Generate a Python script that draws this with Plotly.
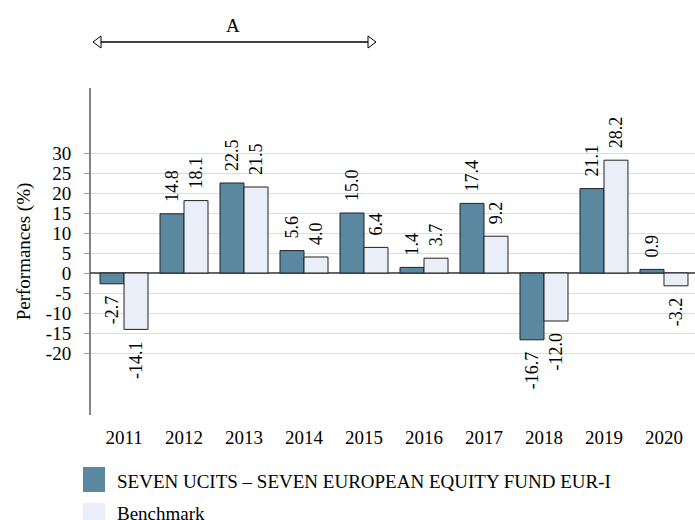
import plotly.graph_objects as go

years = ["2011", "2012", "2013", "2014", "2015", "2016", "2017", "2018", "2019", "2020"]
fund = [-2.7, 14.8, 22.5, 5.6, 15.0, 1.4, 17.4, -16.7, 21.1, 0.9]
bench = [-14.1, 18.1, 21.5, 4.0, 6.4, 3.7, 9.2, -12.0, 28.2, -3.2]
fund_name = "SEVEN UCITS – SEVEN EUROPEAN EQUITY FUND EUR-I"
bench_name = "Benchmark"
y_ticks = [-20, -15, -10, -5, 0, 5, 10, 15, 20, 25, 30]

DARK = "#5b88a1"
LIGHT = "#e9eef8"
FONT = "Liberation Serif"
NB = "\u00a0\u00a0"

W, H = 695, 520
L, R, T, B = 90, 0, 88, 105
pw, ph = W - L - R, H - T - B


def px(x):
    return (x - L) / pw


def py(y):
    return (H - B - y) / ph


def lab(v):
    s = f"{v:.1f}"
    return NB + s if v >= 0 else s + NB


fig = go.Figure()
for name, vals, col in [(fund_name, fund, DARK), (bench_name, bench, LIGHT)]:
    fig.add_trace(go.Bar(
        x=years, y=vals, name=name,
        marker=dict(color=col, line=dict(color="#222222", width=1)),
        text=[lab(v) for v in vals], textposition="outside", textangle=-90,
        textfont=dict(family=FONT, size=18, color="#000"),
        cliponaxis=False, constraintext="none", showlegend=False,
    ))

shapes = []
# y axis line
shapes.append(dict(type="line", xref="paper", yref="paper", x0=0, x1=0, y0=0, y1=1,
                   line=dict(color="#333333", width=1.2)))
# arrow
ay = py(42)
shapes.append(dict(type="line", xref="paper", yref="paper", x0=px(93), x1=px(376), y0=ay, y1=ay,
                   line=dict(color="#000", width=1.3)))
for tip, base in [(93, 101), (376, 368)]:
    shapes.append(dict(type="path", xref="paper", yref="paper",
                       path=f"M {px(tip)} {ay} L {px(base)} {py(36)} L {px(base)} {py(48)} Z",
                       line=dict(color="#000", width=1), fillcolor="white"))
# legend squares
shapes.append(dict(type="rect", xref="paper", yref="paper", x0=px(83), x1=px(105), y0=py(492), y1=py(467),
                   line=dict(width=0), fillcolor=DARK))
shapes.append(dict(type="rect", xref="paper", yref="paper", x0=px(83), x1=px(105), y0=py(526), y1=py(503),
                   line=dict(width=0), fillcolor=LIGHT))

annotations = [
    dict(text="A", xref="paper", yref="paper", x=px(233), y=py(25), showarrow=False,
         font=dict(family=FONT, size=19, color="#000"), xanchor="center", yanchor="middle"),
    dict(text=fund_name, xref="paper", yref="paper", x=px(115), y=py(481), showarrow=False,
         font=dict(family=FONT, size=19, color="#000"), xanchor="left", yanchor="middle"),
    dict(text=bench_name, xref="paper", yref="paper", x=px(115), y=py(513), showarrow=False,
         font=dict(family=FONT, size=19, color="#000"), xanchor="left", yanchor="middle"),
]

fig.update_layout(
    width=W, height=H,
    margin=dict(l=L, r=R, t=T, b=B),
    plot_bgcolor="white", paper_bgcolor="white",
    barmode="group", bargap=0.2, bargroupgap=0,
    font=dict(family=FONT, color="#000"),
    shapes=shapes, annotations=annotations,
    xaxis=dict(type="category", range=[-0.567, 9.517], showgrid=False, showline=False,
               zeroline=False, ticks="", tickfont=dict(family=FONT, size=19),
               ticklabelstandoff=9),
    yaxis=dict(range=[-35.5, 46.25], tickvals=y_ticks, ticktext=[str(v) for v in y_ticks],
               showgrid=True, gridcolor="#dddddd", gridwidth=1.2,
               zeroline=True, zerolinecolor="#666666", zerolinewidth=1.5,
               showline=False, ticks="outside", ticklen=5, tickcolor="#999999", tickwidth=1,
               tickfont=dict(family=FONT, size=19),
               ticklabelstandoff=9,
               title=dict(text="Performances (%)", font=dict(family=FONT, size=19), standoff=10)),
)

fig.write_html("out.html", config={"displayModeBar": False},
               post_script="document.body.style.margin='0';document.body.style.padding='0';")
